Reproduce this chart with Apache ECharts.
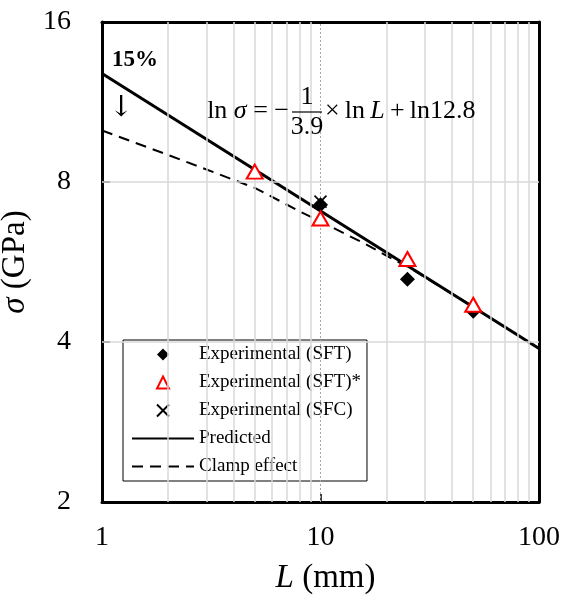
<!DOCTYPE html>
<html>
<head>
<meta charset="utf-8">
<script src="https://cdn.jsdelivr.net/npm/echarts@6/dist/echarts.min.js"></script>
<style>html,body{margin:0;padding:0;background:#fff;}#c{width:561px;height:597px;}</style>
</head>
<body>
<div id="c"></div>
<script>
// ---- data ----
const xTicks = [1, 10, 100];
const yTicks = [2, 4, 8, 16];
const minorX = [2, 3, 4, 5, 6, 7, 8, 9, 20, 30, 40, 50, 60, 70, 80, 90];
const gridY = [4, 8];

const L_sft = [10, 25, 50];
const s_sft = [7.25, 5.25, 4.57];

const L_sftStar = [5, 10, 25, 50];
const s_sftStar = [8.37, 6.83, 5.73, 4.70];

const L_sfc = [10];
const s_sfc = [7.35];

const L_pred = [1, 100];
const s_pred = [12.8, 3.89];

const L_clamp = [1, 2, 5, 8, 11.5, 16, 21.5, 25.5, 30, 40, 50];
const s_clamp = [10.0, 9.0, 7.8, 7.05, 6.55, 6.12, 5.72, 5.52, 5.30, 4.93, 4.66];

const FONT = "'Liberation Serif', 'Times New Roman', serif";
const zip = (a, b) => a.map((v, i) => [v, b[i]]);

const chart = echarts.init(document.getElementById('c'), null, {renderer: 'canvas'});

const gridLines = [];
minorX.forEach(v => gridLines.push({xAxis: v, lineStyle: {color: '#d9d9d9', width: 1.5, type: 'solid'}}));
gridLines.push({xAxis: 10, lineStyle: {color: '#a6a6a6', width: 1, type: [2, 2]}});
gridY.forEach(v => gridLines.push({yAxis: v, lineStyle: {color: '#d9d9d9', width: 1.5, type: 'solid'}}));

const DIAMOND = 'path://M5,0L10,5L5,10L0,5Z';
const TRIANGLE = 'path://M5,0L10,10L0,10Z';
const CROSS = 'path://M0,0L10,10M10,0L0,10';
const hideSym = {color: 'rgba(0,0,0,0)', borderColor: 'rgba(0,0,0,0)', borderWidth: 0, opacity: 0};

const option = {
  animation: false,
  backgroundColor: '#fff',
  grid: {left: 102, right: 22, top: 22, bottom: 95, containLabel: false, outerBoundsMode: 'none'},
  xAxis: [{
    type: 'log', logBase: 10, min: 1, max: 100,
    axisLine: {show: true, lineStyle: {color: '#000', width: 3}},
    axisTick: {show: true, inside: true, length: 8, lineStyle: {color: '#000', width: 1.5}},
    axisLabel: {color: '#000', fontFamily: FONT, fontSize: 28, margin: 22,
      formatter: v => String(v)},
    splitLine: {show: false},
    name: '{i|L} (mm)', nameLocation: 'middle', nameGap: 60,
    nameTextStyle: {color: '#000', fontFamily: FONT, fontSize: 33, padding: [0, 0, 0, 10],
      rich: {i: {fontStyle: 'italic', fontFamily: FONT, fontSize: 33, color: '#000'}}}
  }, {
    type: 'log', logBase: 10, min: 1, max: 100, position: 'top',
    axisLine: {show: true, lineStyle: {color: '#000', width: 3}},
    axisTick: {show: false}, axisLabel: {show: false}, splitLine: {show: false}
  }],
  yAxis: [{
    type: 'log', logBase: 2, min: 2, max: 16,
    axisLine: {show: true, lineStyle: {color: '#000', width: 3}},
    axisTick: {show: true, inside: true, length: 8, lineStyle: {color: '#000', width: 1.5}},
    axisLabel: {color: '#000', fontFamily: FONT, fontSize: 28, margin: 31,
      formatter: v => String(Math.round(v))},
    splitLine: {show: false},
    name: '{i|σ} (GPa)', nameLocation: 'middle', nameGap: 43, nameRotate: 90,
    nameTextStyle: {color: '#000', fontFamily: FONT, fontSize: 33,
      rich: {i: {fontStyle: 'italic', fontFamily: FONT, fontSize: 33, color: '#000'}}}
  }, {
    type: 'log', logBase: 2, min: 2, max: 16, position: 'right',
    axisLine: {show: true, lineStyle: {color: '#000', width: 3}},
    axisTick: {show: false}, axisLabel: {show: false}, splitLine: {show: false}
  }],
  legend: {
    orient: 'vertical', left: 123, top: 340,
    padding: [5, 6, 5, 8],
    backgroundColor: '#fff', borderColor: '#000', borderWidth: 1,
    itemWidth: 62, itemHeight: 12, itemGap: 9,
    symbolKeepAspect: true,
    textStyle: {color: '#000', fontFamily: FONT, fontSize: 19},
    data: [
      {name: 'Experimental (SFT)'},
      {name: 'Experimental (SFT)*'},
      {name: 'Experimental (SFC)'},
      {name: 'Predicted', itemStyle: hideSym},
      {name: 'Clamp effect', itemStyle: hideSym}
    ]
  },
  series: [
    {
      name: 'grid', type: 'line', data: [], z: 1, silent: true,
      markLine: {silent: true, symbol: ['none', 'none'], label: {show: false},
        animation: false, data: gridLines}
    },
    {
      name: 'Clamp effect', type: 'line', z: 2, symbol: 'none',
      data: zip(L_clamp, s_clamp),
      lineStyle: {color: '#000', width: 2, type: [11, 7]},
      itemStyle: {color: '#000'}
    },
    {
      name: 'Predicted', type: 'line', z: 3, symbol: 'none',
      data: zip(L_pred, s_pred),
      lineStyle: {color: '#000', width: 3},
      itemStyle: {color: '#000'}
    },
    {
      name: 'Experimental (SFC)', type: 'scatter', z: 4,
      symbol: CROSS, symbolSize: 12,
      data: zip(L_sfc, s_sfc),
      itemStyle: {color: 'rgba(0,0,0,0)', borderColor: '#000', borderWidth: 1.6, opacity: 1}
    },
    {
      name: 'Experimental (SFT)', type: 'scatter', z: 5,
      symbol: DIAMOND, symbolSize: 15,
      data: zip(L_sft, s_sft),
      itemStyle: {color: '#000', opacity: 1}
    },
    {
      name: 'Experimental (SFT)*', type: 'scatter', z: 6,
      symbol: TRIANGLE, symbolSize: [16, 14],
      data: zip(L_sftStar, s_sftStar),
      itemStyle: {color: '#fff', borderColor: '#ff0000', borderWidth: 2, opacity: 1}
    }
  ],
  graphic: [
    {type: 'text', left: 112, top: 49, z: 10,
      style: {text: '15%', font: "bold 23px 'Liberation Serif', serif", fill: '#000'}},
    {type: 'text', left: 109, top: 94, z: 10,
      style: {text: '↓', font: "29px 'DejaVu Serif', serif", fill: '#000'}},
    {type: 'text', x: 289, y: 111, z: 10,
      style: {text: '{n|ln }{i|σ}{n| = −}', align: 'right', verticalAlign: 'middle', fill: '#000',
        rich: {n: {fontFamily: FONT, fontSize: 26, fill: '#000'},
               i: {fontFamily: FONT, fontSize: 26, fontStyle: 'italic', fill: '#000'}}}},
    {type: 'text', x: 307, y: 110, z: 10,
      style: {text: '1', font: "26px 'Liberation Serif', serif", align: 'center', verticalAlign: 'bottom', fill: '#000'}},
    {type: 'line', z: 10, shape: {x1: 292, y1: 112, x2: 322, y2: 112}, style: {stroke: '#000', lineWidth: 1.2}},
    {type: 'text', x: 307, y: 114, z: 10,
      style: {text: '3.9', font: "26px 'Liberation Serif', serif", align: 'center', verticalAlign: 'top', fill: '#000'}},
    {type: 'text', x: 325, y: 111, z: 10,
      style: {text: '{n|×\u2009ln\u2009}{i|L}{n|\u2009+\u2009ln12.8}', align: 'left', verticalAlign: 'middle', fill: '#000',
        rich: {n: {fontFamily: FONT, fontSize: 26, fill: '#000'},
               i: {fontFamily: FONT, fontSize: 26, fontStyle: 'italic', fill: '#000'}}}}
  ]
};
chart.setOption(option);
</script>
</body>
</html>
